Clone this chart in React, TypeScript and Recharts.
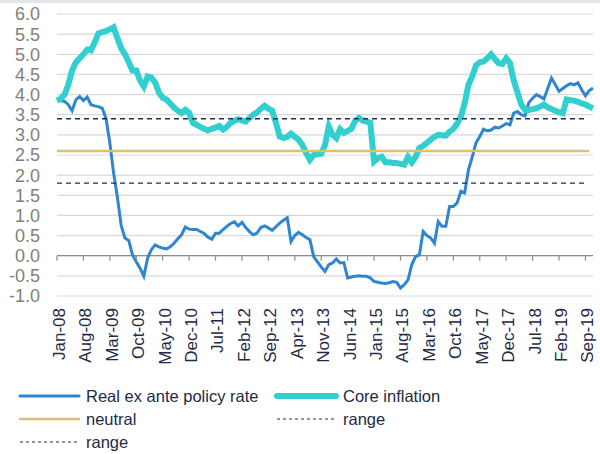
import React from "react"
import {
  LineChart,
  Line,
  XAxis,
  YAxis,
  CartesianGrid,
  ReferenceLine,
} from "recharts"

const MONTHS = ["Jan", "Feb", "Mar", "Apr", "May", "Jun", "Jul", "Aug", "Sep", "Oct", "Nov", "Dec"]

// monthly, Jan-08 .. Nov-19
const realRate = [
  3.85, 3.85, 3.83, 3.75, 3.6, 3.87, 3.95, 3.85, 3.94, 3.75, 3.72, 3.7,
  3.66, 3.4, 2.8, 2.05, 1.45, 0.75, 0.44, 0.38, 0.02, -0.15, -0.31, -0.51,
  -0.06, 0.15, 0.27, 0.22, 0.19, 0.17, 0.22, 0.31, 0.42, 0.52, 0.71, 0.66,
  0.65, 0.65, 0.6, 0.55, 0.46, 0.41, 0.56, 0.56, 0.65, 0.73, 0.8, 0.84,
  0.74, 0.83, 0.7, 0.6, 0.52, 0.56, 0.7, 0.74, 0.69, 0.63, 0.72, 0.81,
  0.88, 0.94, 0.35, 0.5, 0.58, 0.52, 0.45, 0.4, -0.02, -0.15, -0.28, -0.39,
  -0.22, -0.18, -0.08, -0.18, -0.17, -0.55, -0.53, -0.51, -0.5, -0.51, -0.51, -0.55,
  -0.64, -0.66, -0.68, -0.69, -0.67, -0.64, -0.66, -0.8, -0.72, -0.6, -0.22, -0.02,
  0.02, 0.6, 0.5, 0.44, 0.31, 0.85, 0.73, 0.73, 1.22, 1.22, 1.31, 1.6,
  1.56, 2.13, 2.45, 2.8, 2.96, 3.14, 3.1, 3.12, 3.19, 3.17, 3.22, 3.28,
  3.25, 3.54, 3.58, 3.5, 3.47, 3.8, 3.91, 4.0, 3.95, 3.89, 4.15, 4.41,
  4.25, 4.08, 4.15, 4.22, 4.27, 4.24, 4.29, 4.12, 3.97, 4.1, 4.16,
]

const coreInflation = [
  3.85, 3.9, 4.0, 4.25, 4.6, 4.8, 4.9, 5.0, 5.12, 5.1, 5.3, 5.52,
  5.55, 5.58, 5.62, 5.67, 5.4, 5.15, 5.0, 4.8, 4.6, 4.6, 4.35, 4.2,
  4.45, 4.42, 4.3, 4.05, 3.92, 3.88, 3.78, 3.68, 3.6, 3.54, 3.62, 3.55,
  3.3, 3.25, 3.2, 3.15, 3.11, 3.15, 3.18, 3.22, 3.13, 3.2, 3.3, 3.35,
  3.39, 3.36, 3.33, 3.42, 3.5, 3.56, 3.65, 3.72, 3.65, 3.6, 3.3, 2.96,
  2.92, 2.95, 3.03, 2.95, 2.88, 2.75, 2.55, 2.38, 2.5, 2.52, 2.53, 2.75,
  3.21, 3.0, 2.92, 3.14, 3.05, 3.1, 3.15, 3.35, 3.42, 3.35, 3.33, 3.3,
  2.34, 2.42, 2.46, 2.32, 2.32, 2.3, 2.3, 2.28, 2.26, 2.45, 2.32, 2.45,
  2.67, 2.73, 2.8, 2.88, 2.95, 3.0, 2.99, 2.98, 3.08, 3.15, 3.28, 3.45,
  3.79, 4.24, 4.45, 4.72, 4.8, 4.82, 4.9, 5.0, 4.88, 4.78, 4.76, 4.9,
  4.78, 4.35, 4.05, 3.75, 3.62, 3.62, 3.64, 3.66, 3.7, 3.75, 3.68, 3.64,
  3.6, 3.56, 3.54, 3.88, 3.86, 3.85, 3.82, 3.78, 3.75, 3.7, 3.66,
]

const NEUTRAL = 2.6
const RANGE_HIGH = 3.4
const RANGE_LOW = 1.8
const yTicks = [-1, -0.5, 0, 0.5, 1, 1.5, 2, 2.5, 3, 3.5, 4, 4.5, 5, 5.5, 6]

const months = realRate.map(
  (_, i) => `${MONTHS[i % 12]}-${String(8 + Math.floor(i / 12)).padStart(2, "0")}`
)
const data = months.map((m, i) => ({
  month: m,
  real: realRate[i],
  core: coreInflation[i],
}))

const LINE_END = months[140]

const BLUE = "#2F86CF"
const TEAL = "#31CFCF"
const GOLD = "#DFBE72"
const NAVY = "#1F2D50"
const TEXT = "#1F2A44"

const TOP = 14
const PLOT_H = 282
const PLOT_BOTTOM = TOP + PLOT_H
const ZERO_Y = TOP + (PLOT_H * 6) / 7

const XTick = ({ x, payload }: any) => (
  <g>
    <line x1={x} x2={x} y1={ZERO_Y} y2={ZERO_Y + 5} stroke="#8c8c8c" strokeWidth={1.2} />
    <text
      transform={`translate(${x + 2},${PLOT_BOTTOM + 12}) rotate(-90)`}
      textAnchor="end"
      dy="0.35em"
      fontSize={17}
      fill={TEXT}
    >
      {payload.value}
    </text>
  </g>
)

const legendRows = [
  { label: "Real ex ante policy rate", x: 20, y: 396, stroke: BLUE, w: 3 },
  { label: "Core inflation", x: 277, y: 396, stroke: TEAL, w: 6 },
  { label: "neutral", x: 20, y: 419, stroke: GOLD, w: 2.5 },
  { label: "range", x: 277, y: 419, stroke: NAVY, w: 1.2, dash: "3 3" },
  { label: "range", x: 20, y: 442, stroke: NAVY, w: 1.2, dash: "3 3" },
]

export default function App() {
  return (
    <div
      style={{
        position: "absolute",
        left: 0,
        top: 0,
        width: 600,
        height: 454,
        background: "white",
        fontFamily: "'Liberation Sans', Arial, sans-serif",
      }}
    >
      <div style={{ position: "absolute", left: 0, top: 0, width: 600, height: 3, background: "#e6e6e6" }} />
      <LineChart
        width={600}
        height={380}
        data={data}
        margin={{ top: TOP, right: 7, left: 0, bottom: 0 }}
      >
        <CartesianGrid horizontal vertical={false} stroke="#d9d9d9" strokeWidth={1.2} />
        <XAxis
          dataKey="month"
          interval={6}
          height={84}
          axisLine={false}
          tickLine={false}
          tick={<XTick />}
        />
        <YAxis
          domain={[-1, 6]}
          ticks={yTicks}
          interval={0}
          width={57}
          axisLine={false}
          tickLine={false}
          tickSize={0}
          tickMargin={17}
          tick={{ fontSize: 18, fill: "#7f7f7f" }}
          tickFormatter={(v: number) => v.toFixed(1)}
        />
        <ReferenceLine y={0} stroke="#8c8c8c" strokeWidth={1.2} />
        <Line
          type="linear"
          dataKey="real"
          stroke={BLUE}
          strokeWidth={3}
          dot={false}
          isAnimationActive={false}
        />
        <Line
          type="linear"
          dataKey="core"
          stroke={TEAL}
          strokeWidth={6}
          dot={false}
          isAnimationActive={false}
        />
        <ReferenceLine
          segment={[{ x: months[0], y: NEUTRAL }, { x: months[141], y: NEUTRAL }]}
          stroke={GOLD}
          strokeWidth={2.5}
        />
        <ReferenceLine
          segment={[{ x: months[0], y: RANGE_HIGH }, { x: LINE_END, y: RANGE_HIGH }]}
          stroke={NAVY}
          strokeWidth={1.3}
          strokeDasharray="5 4"
        />
        <ReferenceLine
          segment={[{ x: months[0], y: RANGE_LOW }, { x: LINE_END, y: RANGE_LOW }]}
          stroke={NAVY}
          strokeWidth={1.3}
          strokeDasharray="5 4"
        />
      </LineChart>
      <svg width={600} height={74} style={{ position: "absolute", left: 0, top: 380 }}>
        {legendRows.map((r, i) => (
          <g key={i}>
            <line
              x1={r.x}
              x2={r.x + 59}
              y1={r.y - 380}
              y2={r.y - 380}
              stroke={r.stroke}
              strokeWidth={r.w}
              strokeDasharray={r.dash}
              strokeLinecap={r.dash ? "butt" : "round"}
            />
            <text x={r.x + 66} y={r.y - 380} dy="0.35em" fontSize={16.5} fill={TEXT}>
              {r.label}
            </text>
          </g>
        ))}
      </svg>
    </div>
  )
}
